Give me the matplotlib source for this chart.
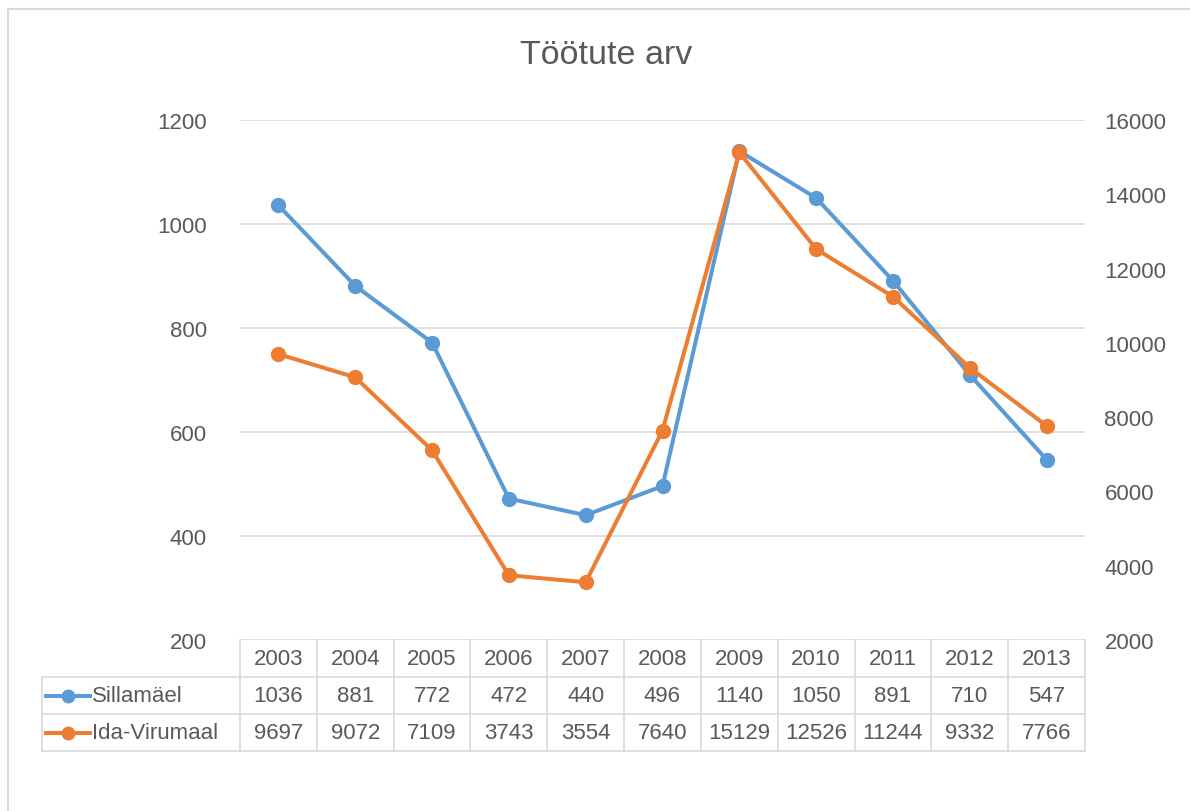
import matplotlib.pyplot as plt
from matplotlib.patches import Rectangle
from matplotlib.lines import Line2D

plt.rcParams['font.family'] = ['Liberation Sans', 'DejaVu Sans']

# data
years = ['2003', '2004', '2005', '2006', '2007', '2008', '2009', '2010', '2011', '2012', '2013']
sillamae = [1036, 881, 772, 472, 440, 496, 1140, 1050, 891, 710, 547]
ida_viru = [9697, 9072, 7109, 3743, 3554, 7640, 15129, 12526, 11244, 9332, 7766]
names = ['Sillamäel', 'Ida-Virumaal']

blue = '#5B9BD5'
orange = '#ED7D31'
grey_txt = '#595959'
grid_c = '#d9d9d9'
fs = 16

fig = plt.figure(figsize=(11.9, 8.12), dpi=100)
ax = fig.add_axes([240/1190, 1-641/812, 845/1190, 520/812])
ax2 = ax.twinx()

# chart frame
fig.patches.append(Rectangle((8/1190, -0.1), 1.2, 1-10/812+0.1, transform=fig.transFigure,
                             fill=False, edgecolor=grid_c, linewidth=1.5))

x = list(range(len(years)))
ax.set_xlim(-0.5, len(years)-0.5)
ax.set_ylim(200, 1200)
ax2.set_ylim(2000, 16000)
ax.set_yticks(range(200, 1201, 200))
ax2.set_yticks(range(2000, 16001, 2000))
ax.set_xticks([])
ax.grid(axis='y', color=grid_c, linewidth=1.2)
ax.set_axisbelow(True)
for a in (ax, ax2):
    for s in a.spines.values():
        s.set_visible(False)
ax.tick_params(axis='y', length=0, pad=24, labelsize=fs, labelcolor=grey_txt)
ax2.tick_params(axis='y', length=0, pad=14, labelsize=fs, labelcolor=grey_txt)

ax.plot(x, sillamae, color=blue, linewidth=2.9, marker='o', markersize=10, clip_on=False)
ax2.plot(x, ida_viru, color=orange, linewidth=2.9, marker='o', markersize=10, clip_on=False)

fig.text(606/1190, 1-56/812, 'Töötute arv', fontsize=24.5, color=grey_txt, ha='center', va='center')

# data table under the plot
tr = ax.get_xaxis_transform()
h = 37/520
leg_left = -0.5 - 198/77
n = len(years)
tl = dict(transform=tr, color=grid_c, linewidth=1.2, clip_on=False)
for r in range(1, 4):
    ax.add_line(Line2D([leg_left, n-0.5], [-r*h, -r*h], **tl))
ax.add_line(Line2D([leg_left, leg_left], [-h, -3*h], **tl))
for i in range(n+1):
    ax.add_line(Line2D([i-0.5, i-0.5], [0, -3*h], **tl))

for i, yr in enumerate(years):
    ax.text(i, -0.5*h, yr, transform=tr, ha='center', va='center', fontsize=fs, color=grey_txt)
    ax.text(i, -1.5*h, str(sillamae[i]), transform=tr, ha='center', va='center', fontsize=fs, color=grey_txt)
    ax.text(i, -2.5*h, str(ida_viru[i]), transform=tr, ha='center', va='center', fontsize=fs, color=grey_txt)

for r, (nm, c) in enumerate(zip(names, [blue, orange])):
    yy = -(r+1.5)*h
    ax.add_line(Line2D([leg_left+0.04, leg_left+0.62], [yy, yy], transform=tr, color=c,
                       linewidth=2.9, clip_on=False))
    ax.add_line(Line2D([leg_left+0.33], [yy], transform=tr, color=c, marker='o',
                       markersize=9, clip_on=False))
    ax.text(leg_left+0.65, yy, nm, transform=tr, ha='left', va='center', fontsize=fs, color=grey_txt)

fig.savefig('out.png', dpi=100)
